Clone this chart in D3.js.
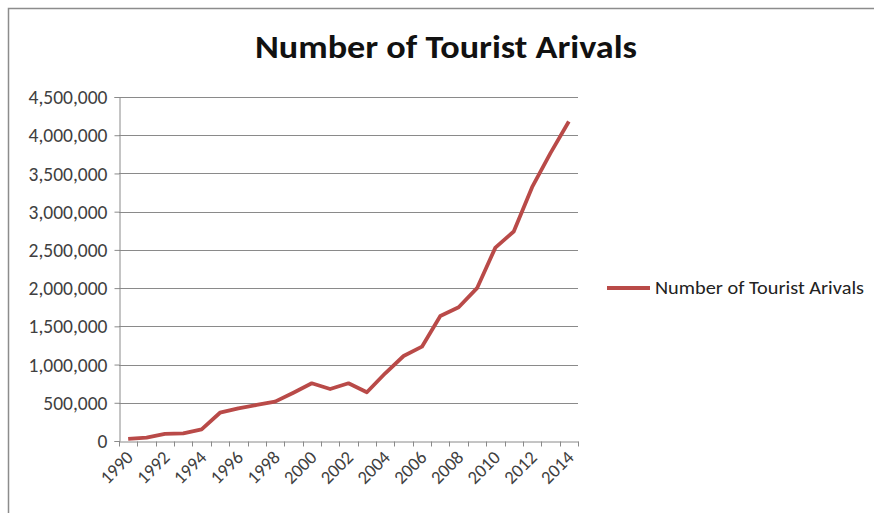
<!DOCTYPE html>
<html><head><meta charset="utf-8">
<script src="https://cdn.jsdelivr.net/npm/d3@7"></script>
<style>body{margin:0;background:#fff}svg{display:block}</style>
</head><body>
<svg id="c" width="874" height="513"></svg>
<script>
const years = ["1990","1991","1992","1993","1994","1995","1996","1997","1998","1999","2000","2001","2002","2003","2004","2005","2006","2007","2008","2009","2010","2011","2012","2013","2014"];
const arrivals = [28000,45000,92000,100000,153000,370000,428000,471000,515000,632000,755000,680000,755000,637000,886000,1112000,1234000,1636000,1750000,1999000,2530000,2740000,3320000,3766000,4180000];
const yTicks = [0,500000,1000000,1500000,2000000,2500000,3000000,3500000,4000000,4500000];
const titleText = "Number of Tourist Arivals";
const seriesName = "Number of Tourist Arivals";

const svg = d3.select("#c");
const font = "Carlito, Calibri, 'Open Sans', 'Noto Sans', sans-serif";
const L = 119, R = 578, T = 97, B = 441;
const lineColor = "#B94A48";

// frame
svg.append("path").attr("d","M8.5,513 V8.5 H874").attr("fill","none").attr("stroke","#8c8c8c").attr("stroke-width",1.5);

const x = d3.scaleBand().domain(years).range([L,R]).paddingInner(0).paddingOuter(0);
const y = d3.scaleLinear().domain([0,4500000]).range([B,T]);

// gridlines
svg.append("g").selectAll("line").data(yTicks.slice(1)).join("line")
  .attr("x1",L).attr("x2",R).attr("y1",d=>Math.round(y(d))+0.5).attr("y2",d=>Math.round(y(d))+0.5)
  .attr("stroke","#8a8a8a").attr("stroke-width",1);

// y axis
const yAxis = d3.axisLeft(y).tickValues(yTicks).tickSize(5).tickPadding(7).tickFormat(d3.format(","));
const gy = svg.append("g").attr("transform",`translate(${L+0.5},0)`).call(yAxis);
gy.select(".domain").attr("stroke","#8a8a8a");
gy.selectAll(".tick line").attr("stroke","#8a8a8a");
gy.selectAll(".tick text").attr("font-family",font).attr("font-size",19.5).attr("fill","#404040").attr("dy","0.34em");

// x axis: ticks between categories
const xAxis = d3.axisBottom(x).tickSize(0).tickFormat((d,i)=> i%2===0 ? d : "");
const gx = svg.append("g").attr("transform",`translate(0,${B+0.5})`).call(xAxis);
gx.select(".domain").attr("stroke","#8a8a8a");
gx.selectAll(".tick text").attr("font-family",font).attr("font-size",18.5).attr("fill","#404040")
  .attr("text-anchor","end").attr("dy",0).attr("y",0)
  .attr("transform","translate(6,17) rotate(-45)");
const bounds = years.map(d=>x(d)).concat([R]);
gx.append("g").selectAll("line").data(bounds).join("line")
  .attr("x1",d=>Math.round(d)+0.5).attr("x2",d=>Math.round(d)+0.5).attr("y1",0).attr("y2",5)
  .attr("stroke","#8a8a8a");

// line
const line = d3.line().x((d,i)=>x(years[i])+x.bandwidth()/2).y(d=>y(d));
svg.append("path").datum(arrivals).attr("d",line).attr("fill","none")
  .attr("stroke",lineColor).attr("stroke-width",3.8).attr("stroke-linejoin","round");

// title
svg.append("text").attr("x",446).attr("y",58).attr("text-anchor","middle")
  .attr("font-family",font).attr("font-weight","bold").attr("font-size",32).attr("fill","#111")
  .attr("textLength",382).attr("lengthAdjust","spacingAndGlyphs").text(titleText);

// legend
svg.append("line").attr("x1",607).attr("x2",650).attr("y1",288).attr("y2",288)
  .attr("stroke",lineColor).attr("stroke-width",3.8);
svg.append("text").attr("x",655).attr("y",294).attr("font-family",font).attr("font-size",18)
  .attr("fill","#222").attr("textLength",209).attr("lengthAdjust","spacingAndGlyphs").text(seriesName);
</script>
</body></html>
